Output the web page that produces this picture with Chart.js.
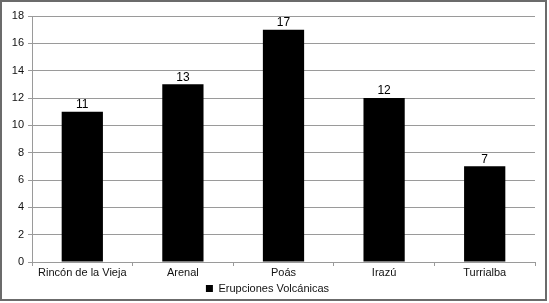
<!DOCTYPE html>
<html>
<head>
<meta charset="utf-8">
<script src="https://cdn.jsdelivr.net/npm/chart.js@4"></script>
<style>
  html, body { margin: 0; padding: 0; background: #fff; }
  #wrap { width: 549px; height: 303px; position: relative; }
</style>
</head>
<body>
<div id="wrap"><canvas id="chart" width="549" height="303"></canvas></div>
<script>
const categories = ['Rincón de la Vieja', 'Arenal', 'Poás', 'Irazú', 'Turrialba'];
const erupciones = [11, 13, 17, 12, 7];
const seriesName = 'Erupciones Volcánicas';
const yTicks = [0, 2, 4, 6, 8, 10, 12, 14, 16, 18];

const ctx = document.getElementById('chart').getContext('2d');

const frame = {
    id: 'frame',
    beforeDraw(chart) {
        const c = chart.ctx;
        c.save();
        c.fillStyle = '#fff';
        c.fillRect(0, 0, chart.width, chart.height);
        c.restore();
    },
    afterDraw(chart) {
        const c = chart.ctx;
        c.save();
        c.strokeStyle = '#6b6b6b';
        c.lineWidth = 2;
        c.strokeRect(1, 1, chart.width - 4, chart.height - 4);
        c.restore();
    }
};

const valueLabels = {
    id: 'valueLabels',
    afterDatasetsDraw(chart) {
        const c = chart.ctx;
        const meta = chart.getDatasetMeta(0);
        c.save();
        c.font = '12px "Liberation Sans", Arial, sans-serif';
        c.fillStyle = '#000';
        c.textAlign = 'center';
        c.textBaseline = 'bottom';
        meta.data.forEach((bar, i) => {
            c.fillText(String(chart.data.datasets[0].data[i]), bar.x, bar.y - 1);
        });
        c.restore();
    }
};

new Chart(ctx, {
    type: 'bar',
    data: {
        labels: categories,
        datasets: [{
            label: seriesName,
            data: erupciones,
            backgroundColor: '#000',
            barPercentage: 0.41,
            categoryPercentage: 1
        }]
    },
    options: {
        responsive: false,
        animation: false,
        layout: { padding: { top: 16, right: 14, left: 0, bottom: -1 } },
        plugins: {
            tooltip: { enabled: false },
            legend: {
                position: 'bottom',
                labels: {
                    boxWidth: 7,
                    boxHeight: 7,
                    padding: 4,
                    color: '#111',
                    font: { family: '"Liberation Sans", Arial, sans-serif', size: 11 }
                }
            }
        },
        scales: {
            x: {
                offset: true,
                grid: { display: true, drawOnChartArea: false, offset: true, tickLength: 4, color: '#9a9a9a' },
                border: { color: '#9a9a9a' },
                ticks: {
                    color: '#111',
                    padding: 0,
                    maxRotation: 0,
                    font: { family: '"Liberation Sans", Arial, sans-serif', size: 11 }
                },
                afterFit(scale) { scale.height = 17; }
            },
            y: {
                min: 0,
                max: 18,
                afterBuildTicks(scale) { scale.ticks = yTicks.map(v => ({ value: v })); },
                grid: { color: '#9a9a9a', tickLength: 4 },
                border: { color: '#9a9a9a' },
                ticks: {
                    color: '#111',
                    padding: 4,
                    font: { family: '"Liberation Sans", Arial, sans-serif', size: 11 }
                },
                afterFit(scale) { scale.width = 32; }
            }
        }
    },
    plugins: [frame, valueLabels]
});
</script>
</body>
</html>
